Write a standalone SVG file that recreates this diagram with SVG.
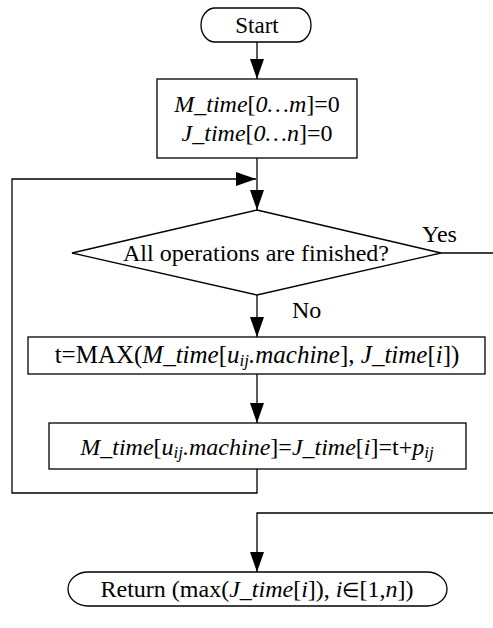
<svg xmlns="http://www.w3.org/2000/svg" width="493" height="628" viewBox="0 0 493 628">
<style>
.s{fill:#fff;stroke:#000;stroke-width:1.3}
.c{fill:none;stroke:#000;stroke-width:1.3}
text{font-family:"Liberation Serif","Times New Roman",serif;font-size:24px;fill:#000}
.m{text-anchor:middle}
.i{font-style:italic}
.sub{font-style:italic;font-size:17px}
</style>
<defs>
<marker id="ah" markerUnits="userSpaceOnUse" markerWidth="20" markerHeight="14" refX="20" refY="7" orient="auto">
<path d="M0,0 L20,7 L0,14 z" fill="#000"/>
</marker>
</defs>
<g id="connectors">
<path class="c" d="M257,42 V79" marker-end="url(#ah)"/>
<path class="c" d="M257,158 V210" marker-end="url(#ah)"/>
<path class="c" d="M257,469 V493 H12 V179 H256" marker-end="url(#ah)"/>
<path class="c" d="M257,295 V337" marker-end="url(#ah)"/>
<path class="c" d="M257,374 V423" marker-end="url(#ah)"/>
<path class="c" d="M441,253 H493"/>
<path class="c" d="M493,513 H257 V572" marker-end="url(#ah)"/>
</g>
<g id="start">
<path class="s" d="M215,8 H297 A14,17 0 0 1 297,42 H215 A14,17 0 0 1 215,8 Z"/>
<text class="m" x="257" y="33" style="font-size:23px">Start</text>
</g>
<g id="init">
<rect class="s" x="157" y="79" width="200" height="79"/>
<text class="m" x="257" y="112"><tspan class="i">M_time</tspan>[<tspan class="i">0…m</tspan>]=0</text>
<text class="m" x="257" y="141"><tspan class="i">J_time</tspan>[<tspan class="i">0…n</tspan>]=0</text>
</g>
<g id="decision">
<path class="s" d="M257,210 L441,253 L257,295 L72,253 Z"/>
<text class="m" x="256" y="261">All operations are finished?</text>
<text x="422" y="242">Yes</text>
<text x="292" y="318">No</text>
</g>
<g id="compute">
<rect class="s" x="28" y="337" width="457" height="37"/>
<text class="m" x="257" y="363" style="font-size:25px">t=MAX(<tspan class="i">M_time</tspan>[<tspan class="i">u</tspan><tspan class="sub" dy="3">ij</tspan><tspan class="i" dy="-3">.machine</tspan>], <tspan class="i">J_time</tspan>[<tspan class="i">i</tspan>])</text>
</g>
<g id="update">
<rect class="s" x="49" y="423" width="417" height="46"/>
<text class="m" x="257" y="455"><tspan class="i">M_time</tspan>[<tspan class="i">u</tspan><tspan class="sub" dy="3">ij</tspan><tspan class="i" dy="-3">.machine</tspan>]=<tspan class="i">J_time</tspan>[<tspan class="i">i</tspan>]=t+<tspan class="i">p</tspan><tspan class="sub" dy="3">ij</tspan></text>
</g>
<g id="return">
<path class="s" d="M88,572 H427 A20,17 0 0 1 427,606 H88 A20,17 0 0 1 88,572 Z"/>
<text class="m" x="257" y="597">Return (max(<tspan class="i">J_time</tspan>[<tspan class="i">i</tspan>]), <tspan class="i">i</tspan><tspan style="font-size:20px">∈</tspan>[1,<tspan class="i">n</tspan>])</text>
</g>
</svg>
